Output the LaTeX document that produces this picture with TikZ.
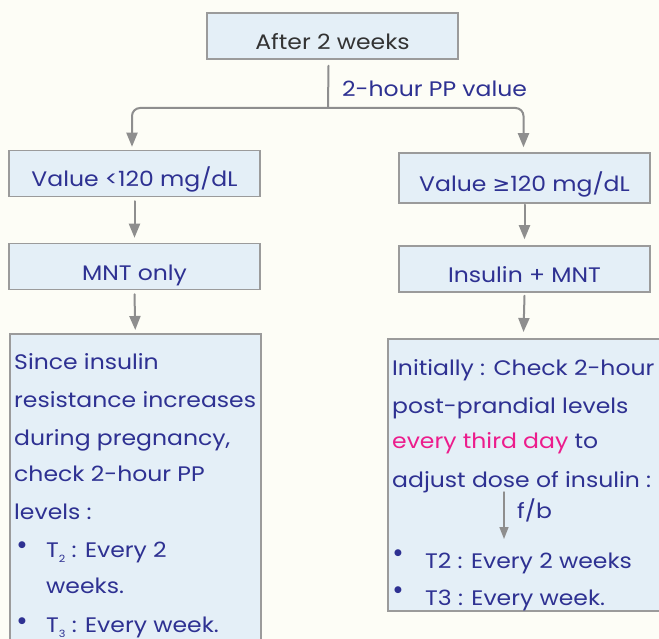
\documentclass[tikz,border=0pt]{standalone}
\usepackage{fontspec}
\setmainfont{Poppins}[FakeStretch=1.12]
\newfontfamily\symfont{DejaVu Sans}
\usetikzlibrary{arrows.meta,positioning}

\definecolor{bgcream}{HTML}{FDFDF6}
\definecolor{boxfill}{HTML}{E4EFF7}
\definecolor{boxline}{HTML}{9B9B9B}
\definecolor{inkblue}{HTML}{2E3192}
\definecolor{inkpink}{HTML}{EC1C8C}
\definecolor{arrowgray}{HTML}{8E8E8E}

\newcommand{\tsub}[1]{\raisebox{-5pt}{\fontsize{10}{10}\selectfont #1}}

\tikzset{
  stepbox/.style={draw=boxline,line width=1.5pt,fill=boxfill,
    minimum width=251pt,minimum height=46pt,inner sep=0pt,
    text height=27pt,text depth=0pt,text=inkblue,
    font=\fontsize{21}{24}\selectfont},
  flow/.style={draw=arrowgray,line width=2pt,-{Triangle[width=11pt,length=14pt]}},
  notetext/.style={text=inkblue,anchor=base west,inner sep=0pt,
    font=\fontsize{21}{24}\selectfont},
  dotmark/.style={text=inkblue,inner sep=0pt,font=\symfont\fontsize{9}{9}\selectfont},
}

\begin{document}
\begin{tikzpicture}[x=1pt,y=-1pt,line cap=round]
  \fill[bgcream] (0,0) rectangle (659,639);
  \clip (0,0) rectangle (659,639);

  \node[stepbox,text=black!80] (weeks) at (332.5,36) {After 2 weeks};
  \node[stepbox] (low) at (134.5,173.5) {Value <120 mg/dL};
  \node[stepbox,minimum height=50pt] (high) at (524.5,178) {Value {\symfont ≥}120 mg/dL};
  \node[stepbox] (mnt) at (134.5,266.5) {MNT only};
  \node[stepbox] (insmnt) at (524.5,269) {Insulin + MNT};
  \node[stepbox,minimum height=330pt,anchor=north west] (lownote) at (9,333) {};
  \node[stepbox,minimum width=276pt,minimum height=272pt,anchor=north west] (highnote) at (387,338) {};

  \coordinate (split) at (328,108);
  \draw[draw=arrowgray,line width=2pt] ([xshift=-4pt,yshift=-6pt]weeks.south) -- (split);
  \node[notetext] (pplabel) at (342,97) {2-hour PP value};
  \draw[flow,rounded corners=8pt] (split) -| ([xshift=-2.5pt,yshift=3pt]low.north);
  \draw[flow,rounded corners=8pt] (split) -| ([xshift=-1pt,yshift=5pt]high.north);
  \draw[flow] ([yshift=-4pt]low.south) -- ([yshift=5pt]mnt.north);
  \draw[flow] ([yshift=-1pt]high.south) -- ([yshift=6pt]insmnt.north);
  \draw[flow] ([yshift=-4pt]mnt.south) -- ([yshift=3pt]lownote.north);
  \draw[flow] ([yshift=-3pt]insmnt.south) -- ([xshift=-1pt,yshift=6pt]insmnt.south |- highnote.north);

  \foreach \txt/\yy [count=\i] in {Since insulin/369, resistance increases/407,
      {during pregnancy,}/445, check 2-hour PP/481, levels :/519}
    \node[notetext] (lowtext\i) at (14,\yy) {\txt};
  \node[dotmark] (lowdotA) at (22,545) {●};
  \node[notetext] (lowitemA) at (46,557) {T\tsub{2} : Every 2};
  \node[notetext] (lowitemB) at (46,593) {weeks.};
  \node[dotmark] (lowdotB) at (22,621) {●};
  \node[notetext] (lowitemC) at (46,632) {T\tsub{3} : Every week.};

  \node[notetext] (hightextA) at (392,375) {Initially : Check 2-hour};
  \node[notetext] (hightextB) at (392,413) {post-prandial levels};
  \node[notetext] (hightextC) at (392,448) {\textcolor{inkpink}{every third day} to};
  \node[notetext] (hightextD) at (392,487) {adjust dose of insulin :};
  \coordinate (fbtop) at (504,492);
  \coordinate (fbend) at (504,539);
  \draw[draw=arrowgray,line width=1.5pt,-{Triangle[width=9pt,length=12pt]}] (fbtop) -- (fbend);
  \node[notetext] (fblabel) at (517,518) {f/b};
  \node[dotmark] (highdotA) at (398,553) {●};
  \node[notetext] (highitemA) at (425,568) {T2 : Every 2 weeks};
  \node[dotmark] (highdotB) at (398,590) {●};
  \node[notetext] (highitemB) at (425,605) {T3 : Every week.};
\end{tikzpicture}
\end{document}
